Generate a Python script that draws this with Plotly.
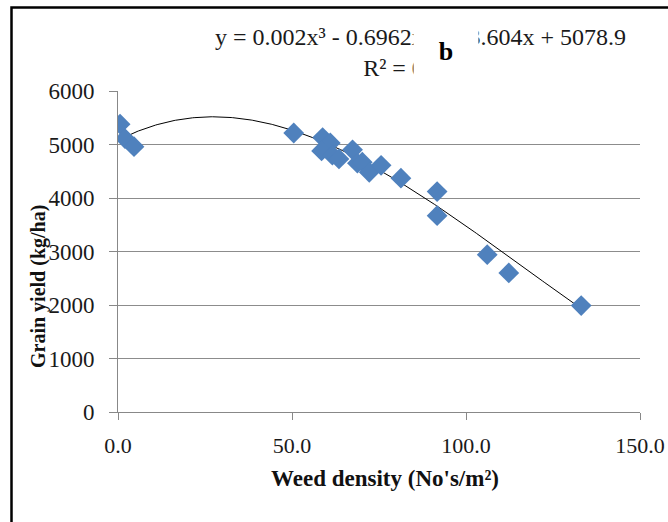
import numpy as np
import plotly.graph_objects as go

# Weed density (No's/m²) and grain yield (kg/ha)
weed_density = [0.6, 2.0, 4.6, 50.5, 58.8, 61.0, 58.5, 61.6, 63.5, 67.4,
                68.8, 70.2, 72.2, 75.6, 81.3, 91.7, 91.7, 106.1, 112.3, 133.1]
grain_yield = [5380, 5110, 4960, 5215, 5130, 5030, 4880, 4800, 4730, 4900,
               4650, 4670, 4480, 4610, 4370, 4120, 3670, 2940, 2600, 1990]

# Trendline polynomial coefficients as printed on the chart (x^3, x^2, x, 1)
trend_coef = [0.002, -0.6962, 33.604, 5078.9]

x_ticks = [0, 50, 100, 150]
x_tick_labels = ["0.0", "50.0", "100.0", "150.0"]
y_ticks = [0, 1000, 2000, 3000, 4000, 5000, 6000]

xt = np.linspace(min(weed_density), max(weed_density), 300)
yt = np.polyval(trend_coef, xt)

FONT = "Liberation Serif"
L, T, W, H = 118, 91, 522, 321   # plot area in pixels


def px(xp):
    return (xp - L) / W


def py(yp):
    return (T + H - yp) / H


fig = go.Figure()
fig.add_trace(go.Scatter(x=xt, y=yt, mode="lines",
                         line=dict(color="black", width=1), hoverinfo="skip"))
fig.add_trace(go.Scatter(x=weed_density, y=grain_yield, mode="markers",
                         marker=dict(symbol="diamond", size=16, color="#4F81BD",
                                     line=dict(width=0))))

fig.update_layout(
    width=668, height=522,
    margin=dict(l=L, r=668 - L - W, t=T, b=522 - T - H),
    paper_bgcolor="white", plot_bgcolor="white",
    showlegend=False,
    font=dict(family=FONT, size=22, color="#1a1a1a"),
)
fig.update_xaxes(range=[0, 150], tickvals=x_ticks, ticktext=x_tick_labels,
                 showgrid=False, zeroline=False, showline=True, linecolor="#888888",
                 linewidth=1, ticks="outside", ticklen=7, tickcolor="#888888",
                 ticklabelstandoff=7, automargin=False,
                 tickfont=dict(family=FONT, size=22, color="#1a1a1a"))
fig.update_yaxes(range=[0, 6000], tickvals=y_ticks,
                 showgrid=True, gridcolor="#8c8c8c", gridwidth=1, zeroline=False,
                 showline=True, linecolor="#888888", linewidth=1,
                 ticks="outside", ticklen=8, tickcolor="#888888",
                 ticklabelstandoff=10, automargin=False,
                 tickfont=dict(family=FONT, size=23, color="#1a1a1a"))

# Axis titles
fig.add_annotation(text="<b>Weed density (No's/m²)</b>", xref="paper", yref="paper",
                   x=px(385), y=py(478), xanchor="center", yanchor="middle",
                   showarrow=False, font=dict(family=FONT, size=23, color="#111111"))
fig.add_annotation(text="<b>Grain yield (kg/ha)</b>", xref="paper", yref="paper",
                   x=px(38), y=py(287), xanchor="center", yanchor="middle",
                   textangle=-90, showarrow=False,
                   font=dict(family=FONT, size=20, color="#111111"))

# Trendline equation
fig.add_annotation(text="y = 0.002x³ - 0.6962x² + 33.604x + 5078.9<br>R² = 0.9786",
                   xref="paper", yref="paper", x=px(420), y=py(53),
                   xanchor="center", yanchor="middle",
                   showarrow=False, align="center",
                   font=dict(family=FONT, size=24, color="#1a1a1a"))
# White label box with "b"
fig.add_annotation(text="<b>b</b>", xref="paper", yref="paper",
                   x=px(446), y=py(51), xanchor="center", yanchor="middle",
                   showarrow=False,
                   bgcolor="white", width=64, height=58, borderpad=0,
                   font=dict(family=FONT, size=26, color="black"))

# Outer chart border
fig.add_shape(type="rect", xref="paper", yref="paper",
              x0=px(11.5), x1=2, y0=-1, y1=py(7.5),
              line=dict(color="black", width=2.5))

fig.write_html("out.html")
